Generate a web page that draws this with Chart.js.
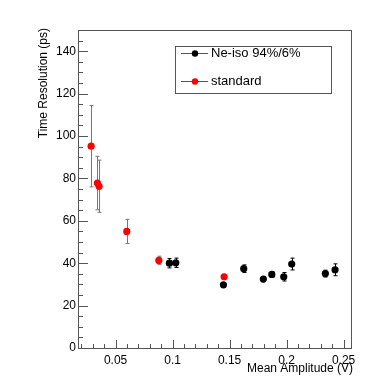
<!DOCTYPE html>
<html>
<head>
<meta charset="utf-8">
<script src="https://cdn.jsdelivr.net/npm/chart.js@4"></script>
<style>
  html, body { margin: 0; padding: 0; background: #fff; }
  canvas { display: block; }
</style>
</head>
<body>
<canvas id="chart" width="390" height="379"></canvas>
<script>
// Ne-iso 94%/6% series
const neX = [0.0972, 0.1028, 0.1446, 0.1624, 0.1796, 0.1870, 0.1975, 0.2045, 0.2340, 0.2425];
const neY = [40.0, 40.2, 29.8, 37.4, 32.5, 34.7, 33.6, 39.6, 35.1, 36.9];
const neErr = [2.2, 2.2, 1.0, 1.8, 1.2, 1.2, 2.0, 2.8, 1.6, 2.8];

// standard series
const stdX = [0.0285, 0.0340, 0.0355, 0.0598, 0.0879, 0.1452];
const stdY = [95.2, 77.8, 76.3, 55.0, 41.3, 33.6];
const stdErr = [19.2, 12.6, 12.3, 5.7, 2.0, 0.8];

const xTicks = [0.05, 0.1, 0.15, 0.2, 0.25];
const yTicks = [0, 20, 40, 60, 80, 100, 120, 140];

const FONT = '"Liberation Sans", Arial, Helvetica, sans-serif';
Chart.defaults.font.family = FONT;
Chart.defaults.color = '#000';

const toPoints = (xs, ys) => xs.map((x, i) => ({ x: x, y: ys[i] }));

// error bars, inward ticks, frame, axis titles, legend box
const rootStyle = {
  id: 'rootStyle',
  beforeDatasetsDraw(chart) {
    const ctx = chart.ctx;
    const xs = chart.scales.x, ys = chart.scales.y;
    const sets = [
      { x: neX, y: neY, e: neErr, c: '#000' },
      { x: stdX, y: stdY, e: stdErr, c: '#777' }
    ];
    ctx.save();
    ctx.lineWidth = 1;
    sets.forEach(s => {
      ctx.strokeStyle = s.c;
      s.x.forEach((v, i) => {
        const px = Math.round(xs.getPixelForValue(v)) + 0.5;
        const top = ys.getPixelForValue(s.y[i] + s.e[i]);
        const bot = ys.getPixelForValue(s.y[i] - s.e[i]);
        ctx.beginPath();
        ctx.moveTo(px, top); ctx.lineTo(px, bot);
        ctx.moveTo(px - 2, top); ctx.lineTo(px + 2, top);
        ctx.moveTo(px - 2, bot); ctx.lineTo(px + 2, bot);
        ctx.stroke();
      });
    });
    ctx.restore();
  },
  afterDraw(chart) {
    const ctx = chart.ctx;
    const a = chart.chartArea;
    const xs = chart.scales.x, ys = chart.scales.y;
    ctx.save();
    ctx.strokeStyle = '#555';
    ctx.lineWidth = 1;
    ctx.strokeRect(Math.round(a.left) + 0.5, Math.round(a.top) + 0.5,
      Math.round(a.right - a.left), Math.round(a.bottom - a.top));

    // y ticks (major 20, minor 5)
    ctx.beginPath();
    for (let v = 0; v <= 150; v += 5) {
      const py = Math.round(ys.getPixelForValue(v)) + 0.5;
      const len = v % 20 === 0 ? 10 : 5;
      ctx.moveTo(a.left, py); ctx.lineTo(a.left + len, py);
    }
    // x ticks (major 0.05, minor 0.01)
    for (let k = 2; k <= 25; k++) {
      const px = Math.round(xs.getPixelForValue(k / 100)) + 0.5;
      const len = k % 5 === 0 ? 8 : 4;
      ctx.moveTo(px, a.bottom); ctx.lineTo(px, a.bottom - len);
    }
    ctx.stroke();

    // axis titles
    ctx.fillStyle = '#000';
    ctx.font = '12px ' + FONT;
    ctx.textAlign = 'right';
    ctx.textBaseline = 'middle';
    ctx.fillText('Mean Amplitude (V)', a.right + 2, 369);
    ctx.save();
    ctx.translate(44, a.top - 2);
    ctx.rotate(-Math.PI / 2);
    ctx.fillText('Time Resolution (ps)', 0, 0);
    ctx.restore();

    // legend
    ctx.strokeStyle = '#555';
    ctx.strokeRect(175.5, 46.5, 156, 47);
    const rows = [
      { label: 'Ne-iso 94%/6%', color: '#000', y: 53.5 },
      { label: 'standard', color: '#ff0000', y: 81.5 }
    ];
    ctx.font = '13px ' + FONT;
    ctx.textAlign = 'left';
    rows.forEach(r => {
      ctx.strokeStyle = '#555';
      ctx.beginPath();
      ctx.moveTo(181, r.y); ctx.lineTo(208, r.y);
      ctx.stroke();
      ctx.fillStyle = r.color;
      ctx.beginPath();
      ctx.arc(195, r.y, 3.2, 0, Math.PI * 2);
      ctx.fill();
      ctx.fillStyle = '#000';
      ctx.fillText(r.label, 211, r.y);
    });
    ctx.restore();
  }
};

new Chart(document.getElementById('chart'), {
  type: 'scatter',
  data: {
    datasets: [
      {
        label: 'Ne-iso 94%/6%',
        data: toPoints(neX, neY),
        backgroundColor: '#000',
        borderWidth: 0,
        pointRadius: 3.6
      },
      {
        label: 'standard',
        data: toPoints(stdX, stdY),
        backgroundColor: '#ff0000',
        borderWidth: 0,
        pointRadius: 3.6
      }
    ]
  },
  options: {
    responsive: false,
    animation: false,
    layout: { padding: { top: 30, right: 39, left: 0, bottom: 0 } },
    plugins: {
      legend: { display: false },
      tooltip: { enabled: false }
    },
    scales: {
      x: {
        type: 'linear',
        min: 0.017,
        max: 0.2565,
        grid: { display: false, drawTicks: false },
        border: { display: false },
        afterBuildTicks: s => { s.ticks = xTicks.map(v => ({ value: v })); },
        afterFit: s => { s.height = 31; },
        ticks: {
          padding: 5,
          maxRotation: 0,
          font: { size: 12 },
          callback: v => String(v)
        }
      },
      y: {
        type: 'linear',
        min: 0,
        max: 150,
        grid: { display: false, drawTicks: false },
        border: { display: false },
        afterBuildTicks: s => { s.ticks = yTicks.map(v => ({ value: v })); },
        afterFit: s => { s.width = 78; },
        ticks: {
          padding: 2,
          font: { size: 12 },
          callback: v => String(v)
        }
      }
    }
  },
  plugins: [rootStyle]
});
</script>
</body>
</html>
